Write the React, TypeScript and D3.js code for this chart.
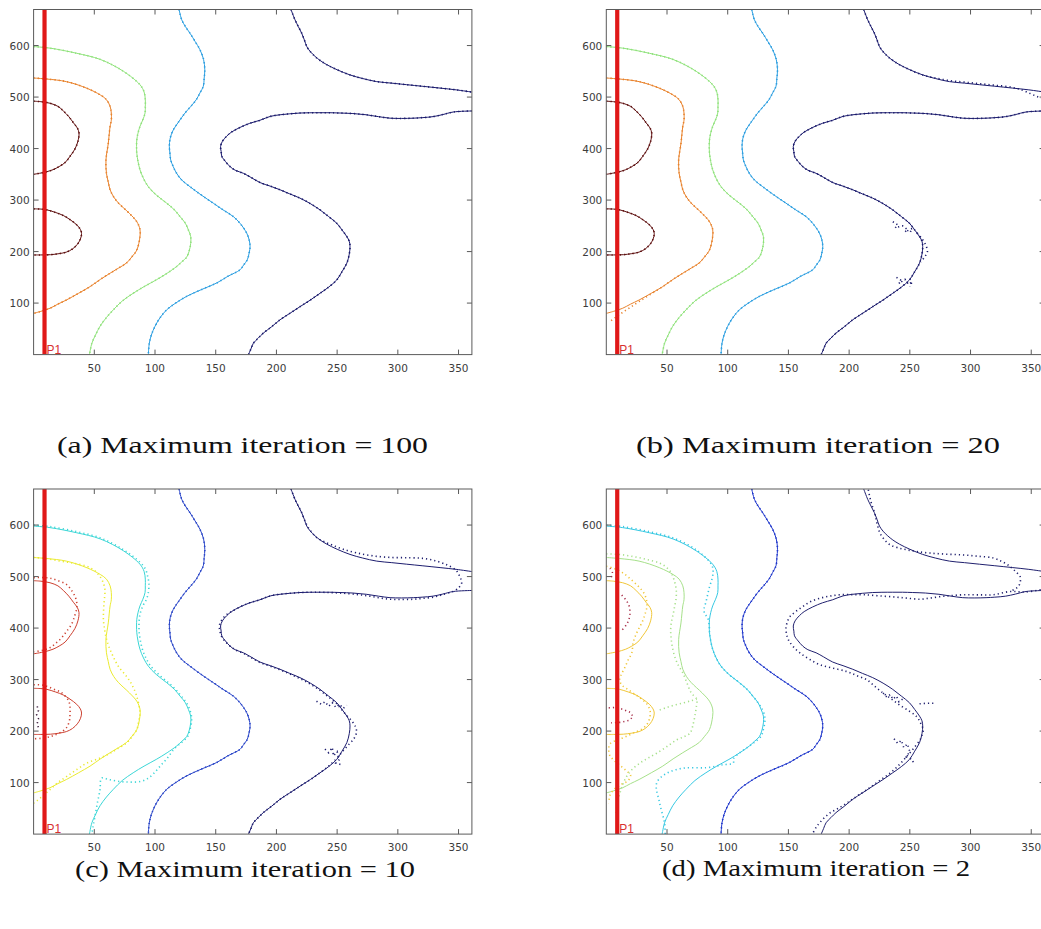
import React from 'react';
import * as d3 from 'd3';

type P = [number, number];

const xTicks = [50, 100, 150, 200, 250, 300, 350];
const yTicks = [100, 200, 300, 400, 500, 600];
const xDomain: P = [0, 361];
const yDomain: P = [0, 670];
const markerX = 9;
const markerLabel = 'P1';
const captions = [
  '(a) Maximum iteration = 100',
  '(b) Maximum iteration = 20',
  '(c) Maximum iteration = 10',
  '(d) Maximum iteration = 2',
];

// ---- solid contours (shared by all panels) ----
const lobeUpper: P[] = [[0,492],[6,491],[13.5,488],[20,482],[24.5,473],[29,462],[32.8,450],[36,440],[37.4,430],[36.5,414],[34,399],[30,385],[26,373],[21,365],[16,359],[9,354],[0,350]];
const lobeLower: P[] = [[0,283],[6,282.5],[11,281],[18,276],[24.5,270],[30,262],[35.5,252],[38.5,243],[39.5,235],[38.5,224],[36,214],[32,205],[27,199],[21,196],[14,194],[6,193.5],[0,193.5]];
const contour2: P[] = [[0,537],[11,535],[27,530],[44,517],[55,504],[60,495],[63,482],[64,469],[64,455],[63,443],[61.5,410],[59.6,378],[60,352],[61.5,335],[63,320],[66,306],[70,294],[79,274],[85,258],[87.6,243],[87.6,229],[85,203],[81,190],[76.6,178],[70,168],[63,158],[55,146],[46.5,132],[37,119],[27,106],[20,98],[13.5,90],[6,84],[0,80]];
const contour3: P[] = [[0,598],[13.5,595],[35.5,585],[55,573],[74,550],[87.6,524],[91,510],[92,495],[92,482],[91.8,469],[90,456],[87.6,443],[86,430],[85,417],[84.8,404],[85,391],[86,375],[87.6,359],[90.5,342],[94.5,326],[101,310],[109.6,294],[116,281],[120.6,268],[125,255],[127.5,242],[129.4,229],[129.4,216],[128,200],[126,189],[122,180],[117.8,171],[110,158],[101,145],[91,132],[82,119],[73,104],[65.7,87],[60,72],[54.7,55],[51,38],[48,22],[46,0]];
const contour4: P[] = [[119.8,670],[122,650],[125,637],[128.8,624],[133,608],[137,592],[140,573],[141,553],[140.5,537],[139.8,521],[137,508],[134,495],[129.5,482],[124.7,469],[119.5,452],[115,436],[112.5,420],[111.8,404],[112.3,391],[112.9,378],[115,365],[117.8,352],[122,339],[128.8,326],[138,310],[148,294],[156,281],[164.5,268],[170,255],[175.5,236],[177.5,223],[178.3,210],[177.5,197],[176,184],[173,174],[170,164.6],[160,152],[150.8,139],[138,126],[126,113],[117,100],[109.6,87],[104,71],[100,55],[97,38],[95.3,22],[94.5,0]];
const navyTop: P[] = [[212,670],[215.3,650],[218,637],[220.8,624],[223,611],[225,598],[228,588],[231.8,579],[236,571],[241.4,563],[250,553],[260.6,543],[271,536],[282.6,530],[295,527],[307.3,524],[320,521],[334.8,517.4],[348,514],[361,509.7]];
const navyLoop: P[] = [[361,473],[345.7,471],[337,466],[329,462],[320,460],[312.8,459],[303,458.5],[293.6,459],[284,462],[274,465.6],[263,468],[252.4,469],[244,469.6],[235.9,469.6],[227,469.5],[219.4,469],[211,467.5],[203,465.6],[195,462.5],[186.5,455],[178,449],[170,441],[163,432],[159,424],[155.5,414],[154,404],[154.5,394],[155,385],[158,375],[161.8,365],[166,358],[172.8,352],[179,344],[186.5,334],[195,327],[203,320],[211,312],[219.4,303.8],[228,293],[235.9,281],[243,268],[249.7,255],[254,242],[258,229],[260,220],[260.6,210],[260,195],[258,177.6],[254,161],[249.7,145],[243,131],[235.9,119],[228,106],[219.4,93],[211,80],[203,67.6],[196,54],[189.2,41.7],[185,32],[181,22],[179,11],[177,0]];

// ---- dotted contours, panel (b) ----
const orangeDotB: P[] = [[0,537],[11,535],[27,530],[44,517],[55,504],[60,495],[63,482],[64,469],[64,455],[63,443],[61.5,410],[59.6,378],[60,352],[61.5,335],[63,320],[66,306],[70,294],[79,274],[85,258],[87.6,243],[87.6,229],[85,203],[81,190],[76.6,178],[70,168],[63,158],[55,146],[46.5,132],[37,118],[27,103],[20,92],[13.5,82],[8,73],[4,66]];
const navyTopDotB: P[] = [[212,670],[215.3,650],[218,637],[220.8,624],[223,611],[225,598],[228,588],[231.8,579],[236,571],[241.4,563],[250,553],[260.6,543],[271,537],[282.6,532],[295,529],[307.3,526],[320,523],[334,519],[343,513],[350,506],[356,500],[361,497]];
const noseDotB: P[] = [[256,236],[260,225],[263,213],[264.5,200],[262,189],[259,180]];
const scrB1: P[] = [[236,258],[240,252],[238,246],[244,250],[248,243],[246,238],[252,245],[250,236]];
const scrB2: P[] = [[239,150],[243,144],[241,138],[246,146],[249,136],[252,142],[250,132]];

// ---- dotted contours, panel (c) ----
const redUpperDotC: P[] = [[0,498],[8,498],[13.5,497],[20,492],[27,485],[31,474],[34,462],[35.5,450],[35.5,438],[34,425],[31.4,408],[27,393],[23,381],[18,370],[13.5,362],[8,357],[0,354]];
const redLowerDotC: P[] = [[0,290],[8,289],[16,282],[22,276],[26,268],[29,258],[30,246],[30,234],[29.5,220],[27.5,208],[24,200],[18,193],[13.5,189],[6,186],[0,185]];
const redScrC: P[] = [[3,248],[4,240],[2.5,232],[4,224],[3,215],[4,206]];
const yellowDotC: P[] = [[0,537],[10,535],[21.7,530],[33,526],[43.7,520],[50,512],[54.7,500],[57.5,487],[58.8,474],[58.5,461],[58,448],[57.6,432],[57.5,416],[58.3,400],[59.6,383],[62,364],[65.7,344],[70,325],[76.6,306],[81,290],[85,267],[87.6,235],[86.5,218],[85,203],[81,189],[76.6,177],[70,167],[63,157],[54,147],[44,138],[36,126],[27.3,112],[20,100],[13.5,86.5],[8,75],[2.5,64],[0,60]];
const cyanDotC: P[] = [[0,600],[13.5,597],[35.5,587],[55,575],[74,552],[87.6,528],[92,515],[94,500],[95,485],[94.5,469],[93,456],[90,443],[88,430],[87,417],[86.8,404],[87,391],[88,375],[89.6,359],[92.5,342],[96.5,326],[103,310],[111,294],[117,281],[121.6,268],[126,255],[128.5,242],[130,229],[130,216],[128.5,200],[127,190],[122,178],[116,166],[110,147],[104.6,133],[99,118],[94,108],[87.7,102],[79,101],[71,102],[62,106],[56,108.7],[54.7,86],[52.5,60],[50.6,35],[49,15],[48,0]];
const navyTopDotC: P[] = [[212,670],[215.3,650],[218,637],[220.8,624],[223,611],[225.5,598],[229,586],[233,576],[239,568],[246,561],[255,553],[266,546],[280,540],[295,537],[310,536.5],[322,535],[332,530],[341,522],[348,512],[351,500],[352.6,488],[350,478],[345.7,471]];
const navyLoopDotC: P[] = [[345.7,471],[337,465],[329,460],[320,457.5],[312.8,456],[303,455.5],[293.6,456],[284,459],[274,463],[263,466],[252.4,468],[244,469],[235.9,469.6],[227,469.5],[219.4,469],[211,467.5],[203,465.6],[195,462.5],[186.5,455],[178,449],[170,441],[163,432],[158,424],[154.5,414],[153,404],[153.5,394],[154.5,385],[157.5,375],[161.8,365],[166,358],[172.8,351],[179,343],[186.5,333],[195,326],[203,319],[211,311],[219.4,302],[228,291],[235.9,279],[243,266],[249.7,253],[254,241],[258,230],[262,220],[265,209],[266,198],[264,186],[260,175],[255,162],[249.7,147],[243,132],[235.9,119],[228,106],[219.4,93],[211,80],[203,67.6],[196,54],[189.2,41.7],[185,32],[181,22],[179,11],[177,0]];
const scrC1: P[] = [[233,258],[237,252],[240,257],[243,248],[246,255],[249,246],[252,252],[255,244],[258,250]];
const scrC2: P[] = [[240,165],[243,158],[246,168],[247,152],[250,160],[252,145],[249,138],[253,135]];

// ---- dotted contours, panel (d) ----
const maroonDotD1: P[] = [[12.7,464],[16,455],[18.5,445],[19.5,432],[19,420],[17,408],[13,396]];
const maroonDotD2: P[] = [[2,245],[8,246],[14,242],[20,236],[22,228],[19,221],[12,217],[4,216]];
const maroonDotD3: P[] = [[3,516],[5,508],[4,498]];
const goldDotD: P[] = [[0,520],[6,516],[13,508],[19.5,496],[26,482],[31,468],[33,455],[33.5,442],[32,428],[30,414],[27,400],[24,385],[22,370],[21,352],[18,338],[15,322],[12,308],[11,298],[13,289],[17,282],[22,274],[28,264],[33,254],[36,240],[36,228],[34,215],[30,205],[22,196],[15,188],[8,182],[3,175],[2,163],[3,152],[6,144],[11,134],[16,124],[20,114],[18,104],[12,96],[6,86],[3,75],[2,60]];
const greenDotD: P[] = [[0,544],[10,543],[19.6,540],[32,534],[44,526],[50,517],[53.5,507],[56,492],[57.6,474],[57.5,458],[56.3,442],[55,426],[53.5,410],[53,394],[53.5,378],[54.5,362],[56.3,345],[59,329],[63,313],[66.5,293],[70,274],[74.5,262],[74,245],[73,230],[71.7,215],[69,196],[64,189],[58,183],[50,170],[41.5,157],[34,147],[27.8,138],[21,125],[16.8,112],[13.5,96],[11.3,80],[9,60],[8,40]];
const greenSpurD: P[] = [[44,241],[50,246],[57,251],[64,255],[70,259],[74.5,262]];
const cyanDotD: P[] = [[0,600],[13.5,597],[35.5,587],[55,575],[74,552],[86.5,524],[88,510],[87,495],[85,480],[83.5,465],[82,450],[80.5,437],[81,428],[83.5,420],[84.8,404],[85,391],[86,375],[87.6,359],[90.5,342],[94.5,326],[101,310],[109.6,294],[116,281],[120.6,268],[125,255],[128.5,242],[130.5,229],[130.5,216],[129,200],[127.5,190],[123,180],[117.8,171],[110,158],[104.6,146],[104.6,138],[96,134.6],[82.7,129],[63.4,128],[49.7,118],[41.5,99],[44,60],[48,21],[48.5,0]];
const navyTopDotD: P[] = [[215.8,668.5],[218,645],[221,623],[223,603],[225.4,584.5],[229,572],[233.7,561.7],[240,556],[247.4,552],[256,548.5],[266.6,545.6],[280,543.5],[294,542],[306,539.5],[318.8,536],[326,529],[332.5,519.6],[337,510],[340.8,500],[341,490],[339.4,480.8],[336,475],[332.5,471]];
const navyLoopDotD: P[] = [[361,476],[345,470],[332.5,471],[318.8,464.7],[306,464.5],[294,464.7],[284,463],[275,461],[266,458],[258.4,456],[248,458],[239,460],[225,462.5],[211.7,464.7],[202,465],[192.5,464.7],[184,462],[176,458],[168,451],[162,442],[156,432],[151.3,422.5],[149,411],[148,400],[148.5,388],[150,377],[154,364],[159.6,351.5],[167,340],[176,328.7],[187,322],[198,315.7],[206,308],[214.5,299.6],[221,287],[228,273.8],[235,262],[242,250],[250,238],[255.7,228],[259,215],[261,202.5],[260,192],[258.4,183],[253,166],[247.4,150.7],[241,134],[233.7,118.4],[224,102],[214.5,86],[206,73],[198,60],[191,50],[184,40.8],[178,28],[173.3,14.8],[170.5,3]];
const scrD1: P[] = [[228,274],[231,266],[234,271],[236,262],[239,268],[241,257],[244,262]];
const scrD2: P[] = [[237,185],[240,176],[243,182],[245,168],[248,175],[250,160],[247,150],[252,145],[253,138]];
const strayD: P[] = [[258,253],[263,254],[270,254]];

type Key = 'lobe' | 'c2' | 'c3' | 'c4' | 'c5' | 'extra';
type Line = { pts: P[]; key: Key; rough?: boolean };

const solidLines: Line[] = [
  { pts: lobeUpper, key: 'lobe' }, { pts: lobeLower, key: 'lobe' },
  { pts: contour2, key: 'c2' }, { pts: contour3, key: 'c3' }, { pts: contour4, key: 'c4' },
  { pts: navyTop, key: 'c5' }, { pts: navyLoop, key: 'c5' },
];

const dottedA: Line[] = solidLines;
const dottedB: Line[] = [
  { pts: lobeUpper, key: 'lobe' }, { pts: lobeLower, key: 'lobe' },
  { pts: orangeDotB, key: 'c2' }, { pts: contour3, key: 'c3' }, { pts: contour4, key: 'c4' },
  { pts: navyTopDotB, key: 'c5' }, { pts: navyLoop, key: 'c5' }, { pts: noseDotB, key: 'c5' },
  { pts: scrB1, key: 'c5', rough: true }, { pts: scrB2, key: 'c5', rough: true },
];
const dottedC: Line[] = [
  { pts: redUpperDotC, key: 'lobe' }, { pts: redLowerDotC, key: 'lobe' }, { pts: redScrC, key: 'extra', rough: true },
  { pts: yellowDotC, key: 'c2' }, { pts: cyanDotC, key: 'c3' }, { pts: contour4, key: 'c4' },
  { pts: navyTopDotC, key: 'c5' }, { pts: navyLoopDotC, key: 'c5' },
  { pts: scrC1, key: 'c5', rough: true }, { pts: scrC2, key: 'c5', rough: true },
];
const dottedD: Line[] = [
  { pts: maroonDotD1, key: 'extra' }, { pts: maroonDotD2, key: 'extra', rough: true }, { pts: maroonDotD3, key: 'extra' },
  { pts: goldDotD, key: 'lobe' }, { pts: greenDotD, key: 'c2' }, { pts: greenSpurD, key: 'c2' },
  { pts: cyanDotD, key: 'c3' }, { pts: contour4, key: 'c4' },
  { pts: navyTopDotD, key: 'c5' }, { pts: navyLoopDotD, key: 'c5' },
  { pts: scrD1, key: 'c5', rough: true }, { pts: scrD2, key: 'c5', rough: true }, { pts: strayD, key: 'c5', rough: true },
];

const palettes: Record<Key, string>[] = [
  { lobe: '#5e1010', c2: '#e8822c', c3: '#90e27c', c4: '#2c9ee0', c5: '#1a1a6c', extra: '#5e1010' },
  { lobe: '#5e1010', c2: '#e8822c', c3: '#90e27c', c4: '#2c9ee0', c5: '#1a1a6c', extra: '#5e1010' },
  { lobe: '#cc4030', c2: '#eaea30', c3: '#3ad6d6', c4: '#2a46c8', c5: '#1c1c6e', extra: '#3a1a3a' },
  { lobe: '#f0c638', c2: '#a6e08a', c3: '#36c8e2', c4: '#2038cc', c5: '#20206e', extra: '#a8304a' },
];

const panelDotted = [dottedA, dottedB, dottedC, dottedD];
const origins: P[] = [[33.6, 9.5], [606.3, 9.5], [33.6, 489], [606.3, 489]];
const captionPos = [
  { x: 57, y: 453, w: 371 },
  { x: 636, y: 453, w: 364 },
  { x: 75, y: 877, w: 340 },
  { x: 662, y: 876, w: 308 },
];

const PW = 438.3;
const PH = 345.1;

function Panel({ idx }: { idx: number }) {
  const [ox, oy] = origins[idx];
  const x = d3.scaleLinear().domain(xDomain).range([0, PW]);
  const y = d3.scaleLinear().domain(yDomain).range([PH, 0]);
  const smooth = d3.line<P>().x(d => x(d[0])).y(d => y(d[1])).curve(d3.curveCatmullRom.alpha(0.5));
  const rough = d3.line<P>().x(d => x(d[0])).y(d => y(d[1]));
  const pal = palettes[idx];
  const clipId = `clip${idx}`;
  const tickLen = 5;
  return (
    <g transform={`translate(${ox},${oy})`}>
      <defs>
        <clipPath id={clipId}><rect x={0} y={0} width={PW} height={PH} /></clipPath>
      </defs>
      <g clipPath={`url(#${clipId})`}>
        {solidLines.map((l, i) => (
          <path key={'s' + i} d={smooth(l.pts) || ''} fill="none" stroke={pal[l.key]} strokeWidth={1} />
        ))}
        {panelDotted[idx].map((l, i) => (
          <path key={'d' + i} d={(l.rough ? rough : smooth)(l.pts) || ''} fill="none" stroke={pal[l.key]}
            strokeWidth={1.6} strokeDasharray="1.2 3" />
        ))}
        <line x1={x(markerX)} x2={x(markerX)} y1={y(yDomain[0])} y2={y(yDomain[1])} stroke="#e01818" strokeWidth={4.2} />
      </g>
      <text x={x(markerX) + 2} y={PH - 1} fontFamily="Liberation Sans, Arial, sans-serif" fontSize={12} fill="#d83030">{markerLabel}</text>
      <rect x={0} y={0} width={PW} height={PH} fill="none" stroke="#5a5a5a" strokeWidth={1} />
      {xTicks.map(t => (
        <g key={'x' + t}>
          <line x1={x(t)} x2={x(t)} y1={PH} y2={PH - tickLen} stroke="#5a5a5a" />
          <line x1={x(t)} x2={x(t)} y1={0} y2={tickLen} stroke="#5a5a5a" />
          <text x={x(t)} y={PH + 17} textAnchor="middle" fontFamily="DejaVu Sans, sans-serif" fontSize={10.5} fill="#3c3c3c">{t}</text>
        </g>
      ))}
      {yTicks.map(t => (
        <g key={'y' + t}>
          <line x1={0} x2={tickLen} y1={y(t)} y2={y(t)} stroke="#5a5a5a" />
          <line x1={PW} x2={PW - tickLen} y1={y(t)} y2={y(t)} stroke="#5a5a5a" />
          <text x={-4} y={y(t) + 4} textAnchor="end" fontFamily="DejaVu Sans, sans-serif" fontSize={10.5} fill="#3c3c3c">{t}</text>
        </g>
      ))}
    </g>
  );
}

export default function App() {
  return (
    <svg width={1041} height={929} style={{ position: 'absolute', left: 0, top: 0, background: '#fff' }}>
      <rect x={0} y={0} width={1041} height={929} fill="#fff" />
      {[0, 1, 2, 3].map(i => <Panel key={i} idx={i} />)}
      {captions.map((c, i) => (
        <text key={c} x={captionPos[i].x} y={captionPos[i].y} textLength={captionPos[i].w} lengthAdjust="spacingAndGlyphs"
          fontFamily="Liberation Serif, DejaVu Serif, serif" fontSize={23} fill="#111">{c}</text>
      ))}
    </svg>
  );
}
